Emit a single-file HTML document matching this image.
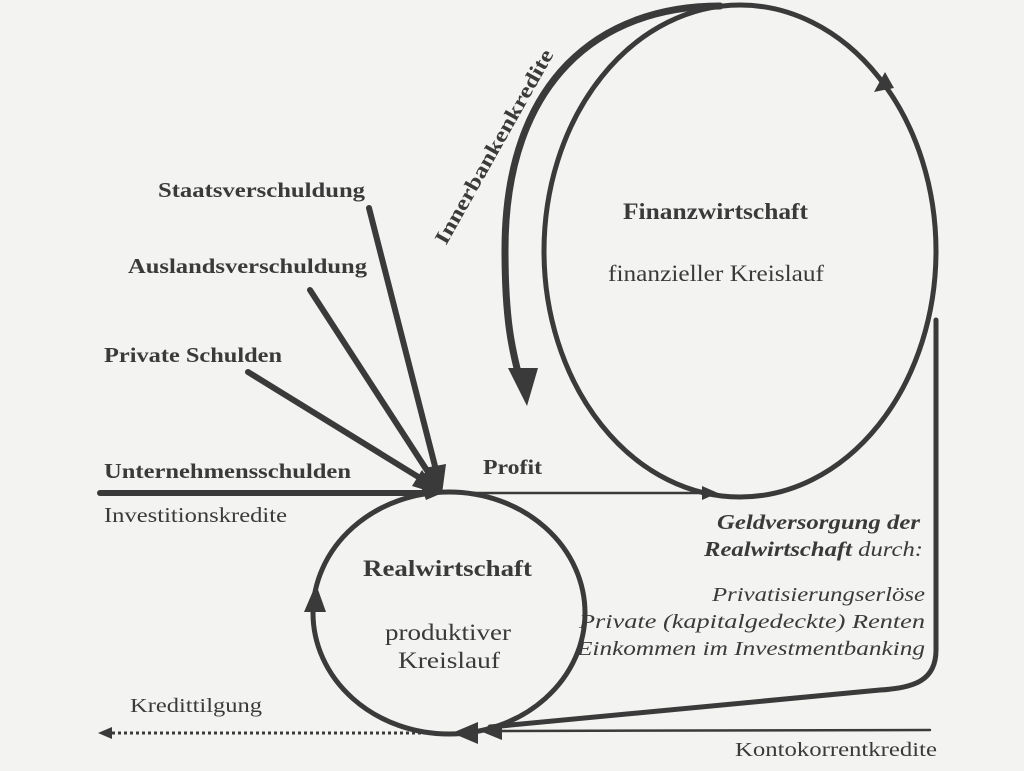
<!DOCTYPE html>
<html><head><meta charset="utf-8"><style>
html,body{margin:0;padding:0;background:#f3f3f1;}
svg{display:block}
text{font-family:"Liberation Serif",serif;fill:#3a3a3a}
.b{font-weight:bold}
</style></head><body>
<svg width="1024" height="771" viewBox="0 0 1024 771" xmlns="http://www.w3.org/2000/svg">
<rect width="1024" height="771" fill="#f3f3f1"/>
<g stroke="#3a3a3a" fill="none" stroke-linecap="round">
  <ellipse cx="740" cy="251" rx="196" ry="246" stroke-width="5"/>
  <ellipse cx="449" cy="613" rx="136" ry="121" stroke-width="5"/>
  <path d="M720,6 C600,6 505,80 505,250 C505,320 512,350 520,380" stroke-width="7"/>
  <line x1="369" y1="208" x2="436" y2="470" stroke-width="6"/>
  <line x1="310" y1="290" x2="428" y2="472" stroke-width="6"/>
  <line x1="248" y1="372" x2="420" y2="478" stroke-width="6"/>
  <line x1="100" y1="493" x2="430" y2="493" stroke-width="6"/>
  <line x1="430" y1="493" x2="705" y2="493" stroke-width="2.5"/>
  <path d="M936,320 L936,650 C936,680 915,688 880,690 L490,727" stroke-width="5"/>
  <line x1="930" y1="730" x2="490" y2="731" stroke-width="2.5"/>
  <line x1="112" y1="733" x2="440" y2="733" stroke-width="3" stroke-dasharray="3,3" stroke-linecap="butt"/>
</g>
<g fill="#3a3a3a">
  <polygon points="527,406 508,368 538,368"/>
  <polygon points="442,494 424,468 446,464"/>
  <polygon points="440,494 418,478 434,466"/>
  <polygon points="438,494 412,486 422,470"/>
  <polygon points="440,494 420,484 426,500"/>
  <polygon points="718,493 702,486 702,500"/>
  <polygon points="885,72 874,92 894,88"/>
  <polygon points="316,584 304,612 326,612"/>
  <polygon points="452,733 478,722 478,744"/>
  <polygon points="480,731 502,722 502,740"/>
  <polygon points="98,733 112,727 112,739"/>
</g>
<g lengthAdjust="spacingAndGlyphs">
<text x="158" y="197" class="b" font-size="21" textLength="207" lengthAdjust="spacingAndGlyphs">Staatsverschuldung</text>
<text x="128" y="273" class="b" font-size="21" textLength="239" lengthAdjust="spacingAndGlyphs">Auslandsverschuldung</text>
<text x="104" y="362" class="b" font-size="21" textLength="178" lengthAdjust="spacingAndGlyphs">Private Schulden</text>
<text x="104" y="478" class="b" font-size="21" textLength="247" lengthAdjust="spacingAndGlyphs">Unternehmensschulden</text>
<text x="104" y="522" font-size="21" textLength="183" lengthAdjust="spacingAndGlyphs">Investitionskredite</text>
<text x="483" y="474" class="b" font-size="21" textLength="59" lengthAdjust="spacingAndGlyphs">Profit</text>
<text x="623" y="219" class="b" font-size="23" textLength="185" lengthAdjust="spacingAndGlyphs">Finanzwirtschaft</text>
<text x="608" y="281" font-size="23" textLength="216" lengthAdjust="spacingAndGlyphs">finanzieller Kreislauf</text>
<text x="363" y="576" class="b" font-size="23" textLength="169" lengthAdjust="spacingAndGlyphs">Realwirtschaft</text>
<text x="385" y="640" font-size="23" textLength="126" lengthAdjust="spacingAndGlyphs">produktiver</text>
<text x="398" y="668" font-size="23" textLength="102" lengthAdjust="spacingAndGlyphs">Kreislauf</text>
<text x="717" y="529" class="b" font-size="21" font-style="italic" textLength="203" lengthAdjust="spacingAndGlyphs">Geldversorgung der</text>
<text x="704" y="556" font-size="21" font-style="italic" textLength="219" lengthAdjust="spacingAndGlyphs"><tspan class="b">Realwirtschaft</tspan> durch:</text>
<text x="712" y="601" font-size="20" font-style="italic" textLength="213" lengthAdjust="spacingAndGlyphs">Privatisierungserlöse</text>
<text x="579" y="628" font-size="20" font-style="italic" textLength="346" lengthAdjust="spacingAndGlyphs">Private (kapitalgedeckte) Renten</text>
<text x="577" y="655" font-size="20" font-style="italic" textLength="348" lengthAdjust="spacingAndGlyphs">Einkommen im Investmentbanking</text>
<text x="130" y="712" font-size="20" textLength="132" lengthAdjust="spacingAndGlyphs">Kredittilgung</text>
<text x="735" y="756" font-size="20" textLength="202" lengthAdjust="spacingAndGlyphs">Kontokorrentkredite</text>
<text x="0" y="0" class="b" font-size="21" text-anchor="middle" textLength="220" lengthAdjust="spacingAndGlyphs" transform="translate(500,150) rotate(-60.6)">Innerbankenkredite</text>
</g>
</svg>
</body></html>
